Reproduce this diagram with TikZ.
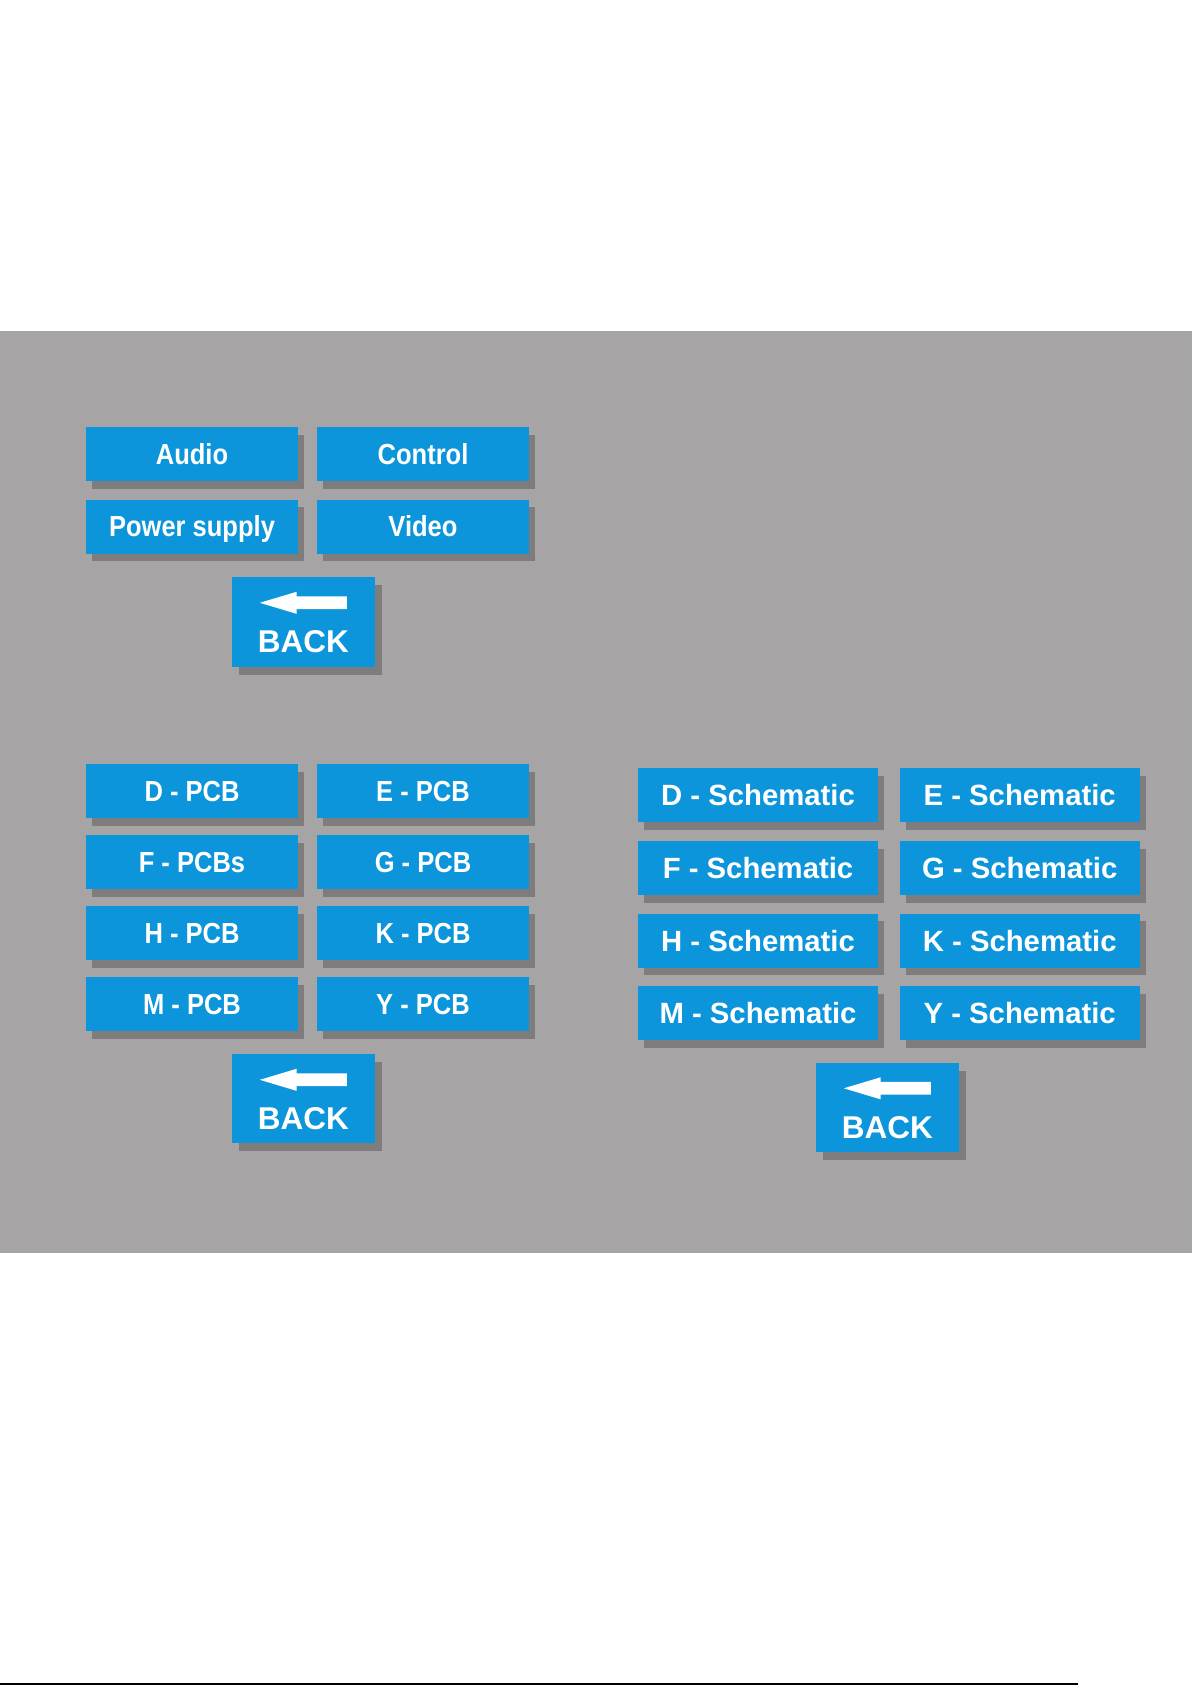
\documentclass[tikz,border=0pt]{standalone}
\usepackage{fontspec}
\setmainfont{Liberation Sans}
\newfontfamily\condfont{Liberation Sans}[FakeStretch=0.88]
\usetikzlibrary{shadows}
\definecolor{btnblue}{RGB}{12,149,219}
\definecolor{panelgray}{RGB}{166,164,165}
\definecolor{shadowgray}{RGB}{126,124,125}
\tikzset{
  btn/.style={rectangle, fill=btnblue, inner sep=0pt, text=white,
    minimum width=212pt, minimum height=54pt, text height=20.8pt, text depth=0pt,
    font=\condfont\bfseries\fontsize{29pt}{29pt}\selectfont,
    drop shadow={shadow xshift=6pt, shadow yshift=-7.5pt, fill=shadowgray, opacity=1}},
  schbtn/.style={btn, minimum width=240pt, text height=21pt,
    font=\bfseries\fontsize{29.3pt}{29.3pt}\selectfont},
  backbox/.style={rectangle, fill=btnblue, inner sep=0pt, minimum width=143pt, minimum height=89pt,
    drop shadow={shadow xshift=7pt, shadow yshift=-8pt, fill=shadowgray, opacity=1}},
  backtext/.style={anchor=base, inner sep=0pt, text=white,
    font=\bfseries\fontsize{31.5pt}{31.5pt}\selectfont},
}
\newcommand\backbutton[4]{%
  \node[backbox, minimum height=#4pt] (#1) at (#2,#3) {};
  \begin{scope}[shift={(#1.north west)}]
    \fill[white] (28,26) -- (64.7,15) -- (64.7,19.5) -- (115,19.5) -- (115,32.2)
      -- (64.7,32.2) -- (64.7,37) -- cycle;
  \end{scope}
  \node[backtext] (#1t) at ([shift={(71.5,76)}]#1.north west) {BACK};
}
\begin{document}
\begin{tikzpicture}[x=1pt,y=-1pt]
\useasboundingbox (0,0) rectangle (1192,1685);
\fill[white] (0,0) rectangle (1192,1685);
\fill[panelgray] (0,331) rectangle (1192,1253);

% top group
\node[btn] (audio) at (192,454) {Audio};
\node[btn] (control) at (423,454) {Control};
\node[btn] (power) at (192,526.5) {Power supply};
\node[btn] (video) at (423,526.5) {Video};
\backbutton{backA}{303.5}{622}{90}

% PCB group
\node[btn] (dpcb) at (192,791) {D - PCB};
\node[btn] (epcb) at (423,791) {E - PCB};
\node[btn] (fpcb) at (192,862) {F - PCBs};
\node[btn] (gpcb) at (423,862) {G - PCB};
\node[btn] (hpcb) at (192,933) {H - PCB};
\node[btn] (kpcb) at (423,933) {K - PCB};
\node[btn] (mpcb) at (192,1004) {M - PCB};
\node[btn] (ypcb) at (423,1004) {Y - PCB};
\backbutton{backB}{303.5}{1098.5}{89}

% Schematic group
\node[schbtn] (dsch) at (758,795) {D - Schematic};
\node[schbtn] (esch) at (1019.7,795) {E - Schematic};
\node[schbtn] (fsch) at (758,868) {F - Schematic};
\node[schbtn] (gsch) at (1019.7,868) {G - Schematic};
\node[schbtn] (hsch) at (758,940.5) {H - Schematic};
\node[schbtn] (ksch) at (1019.7,940.5) {K - Schematic};
\node[schbtn] (msch) at (758,1013) {M - Schematic};
\node[schbtn] (ysch) at (1019.7,1013) {Y - Schematic};
\backbutton{backC}{887.5}{1107}{89}

% bottom rule
\draw[line width=1.4pt] (0,1684) -- (1078,1684);
\end{tikzpicture}
\end{document}
